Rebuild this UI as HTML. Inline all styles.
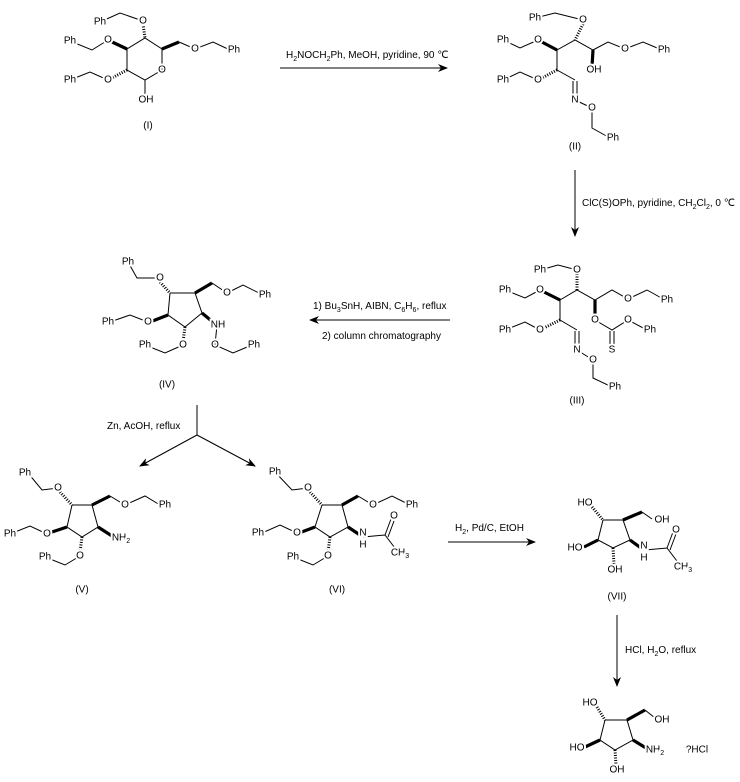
<!DOCTYPE html>
<html><head><meta charset="utf-8"><style>
html,body{margin:0;padding:0;background:#fff;}
svg{display:block;}
line,polyline{stroke:#000;stroke-width:1;fill:none;}
.w{stroke-width:3.2;}
.h{stroke-dasharray:1 1.5;stroke-width:3;}
text{font-family:"Liberation Sans",Arial,sans-serif;font-size:10px;fill:#000;}
.a{text-anchor:middle;dominant-baseline:central;stroke:#fff;stroke-width:4;paint-order:stroke;}
</style></head><body>
<svg width="740" height="782" viewBox="0 0 740 782" xmlns="http://www.w3.org/2000/svg">
<defs><marker id="ar" markerWidth="10" markerHeight="8" refX="9" refY="4" orient="auto" markerUnits="userSpaceOnUse"><path d="M0,0 L10,4 L0,8 L3,4z" fill="#000"/></marker></defs>

<!-- I -->
<polyline points="100,22 120,13 143,21"/>
<line class="h" x1="143" y1="24" x2="145" y2="38"/>
<polyline points="127,49 145,38 162,49 162,70 145,80 127,70 127,49"/>
<line class="w" x1="127" y1="49" x2="110" y2="41"/>
<polyline points="108,40 92,50 70,41"/>
<line class="w" x1="162" y1="49" x2="179" y2="42"/>
<polyline points="179,42 195,49 213,42 230,50"/>
<line x1="145" y1="80" x2="145" y2="100"/>
<line class="h" x1="127" y1="70" x2="110" y2="79"/>
<polyline points="108,80 90,72 70,80"/>
<text class="a" x="100" y="22">Ph</text><text class="a" x="143" y="21">O</text>
<text class="a" x="108" y="40">O</text><text class="a" x="70" y="41">Ph</text>
<text class="a" x="195" y="49">O</text><text class="a" x="234" y="50">Ph</text>
<text class="a" x="162" y="70">O</text><text class="a" x="146" y="100">OH</text>
<text class="a" x="108" y="80">O</text><text class="a" x="70" y="80">Ph</text>
<text class="a" x="148" y="126">(I)</text>

<line x1="280" y1="68" x2="447" y2="68" marker-end="url(#ar)"/>
<text x="286" y="58">H<tspan font-size="7" dy="3">2</tspan><tspan dy="-3">NOCH</tspan><tspan font-size="7" dy="3">2</tspan><tspan dy="-3">Ph, MeOH, pyridine, 90 ℃</tspan></text>

<!-- II -->
<polyline points="535,18 555,13 583,20"/>
<line class="h" x1="583" y1="24" x2="575" y2="40"/>
<polyline points="557,50 575,40 593,50 608,42 625,49 643,42 662,50"/>
<line class="w" x1="557" y1="50" x2="540" y2="41"/>
<polyline points="538,40 520,48 503,40"/>
<line class="w" x1="593" y1="50" x2="592" y2="67"/>
<polyline points="557,50 557,70 575,80"/>
<line x1="573" y1="81" x2="573" y2="97"/><line x1="577" y1="81" x2="577" y2="97"/>
<line class="h" x1="557" y1="70" x2="540" y2="79"/>
<polyline points="538,80 520,72 503,80"/>
<polyline points="575,100 592,108 592,128 610,138"/>
<text class="a" x="535" y="18">Ph</text><text class="a" x="583" y="20">O</text>
<text class="a" x="538" y="40">O</text><text class="a" x="503" y="40">Ph</text>
<text class="a" x="625" y="49">O</text><text class="a" x="664" y="50">Ph</text>
<text class="a" x="594" y="70">OH</text>
<text class="a" x="538" y="80">O</text><text class="a" x="503" y="80">Ph</text>
<text class="a" x="575" y="100">N</text><text class="a" x="592" y="108">O</text>
<text class="a" x="613" y="138">Ph</text>
<text class="a" x="575" y="147">(II)</text>

<line x1="575" y1="170" x2="575" y2="236" marker-end="url(#ar)"/>
<text x="582" y="206">ClC(S)OPh, pyridine, CH<tspan font-size="7" dy="3">2</tspan><tspan dy="-3">Cl</tspan><tspan font-size="7" dy="3">2</tspan><tspan dy="-3">, 0 ℃</tspan></text>

<!-- III -->
<polyline points="540,270 558,265 577,270"/>
<line class="h" x1="577" y1="274" x2="577" y2="290"/>
<polyline points="560,300 577,290 595,300 612,290 628,299 647,290 665,300"/>
<line class="w" x1="560" y1="300" x2="542" y2="291"/>
<polyline points="540,290 525,298 505,290"/>
<line class="w" x1="595" y1="300" x2="595" y2="317"/>
<polyline points="595,320 612,330 628,320 647,330"/>
<line x1="610" y1="331" x2="610" y2="346"/><line x1="614" y1="331" x2="614" y2="346"/>
<polyline points="560,300 560,320 577,330"/>
<line x1="575" y1="331" x2="575" y2="347"/><line x1="579" y1="331" x2="579" y2="347"/>
<line class="h" x1="560" y1="320" x2="542" y2="329"/>
<polyline points="540,330 525,322 505,330"/>
<polyline points="577,350 593,360 593,378 612,387"/>
<text class="a" x="540" y="270">Ph</text><text class="a" x="577" y="270">O</text>
<text class="a" x="540" y="290">O</text><text class="a" x="505" y="290">Ph</text>
<text class="a" x="628" y="299">O</text><text class="a" x="667" y="300">Ph</text>
<text class="a" x="595" y="320">O</text><text class="a" x="628" y="320">O</text>
<text class="a" x="650" y="330">Ph</text><text class="a" x="612" y="350">S</text>
<text class="a" x="540" y="330">O</text><text class="a" x="505" y="330">Ph</text>
<text class="a" x="577" y="350">N</text><text class="a" x="593" y="360">O</text>
<text class="a" x="615" y="387">Ph</text>
<text class="a" x="577" y="401">(III)</text>

<line x1="450" y1="320" x2="310" y2="320" marker-end="url(#ar)"/>
<text x="313" y="309">1) Bu<tspan font-size="7" dy="3">3</tspan><tspan dy="-3">SnH, AIBN, C</tspan><tspan font-size="7" dy="3">6</tspan><tspan dy="-3">H</tspan><tspan font-size="7" dy="3">6</tspan><tspan dy="-3">, reflux</tspan></text>
<text x="322" y="339">2) column chromatography</text>

<!-- IV -->
<polyline points="128,262 137,278 160,278"/>
<line class="h" x1="160" y1="282" x2="170" y2="293"/>
<polyline points="170,293 195,293 202,313 185,327 168,315 170,293"/>
<line class="w" x1="195" y1="293" x2="212" y2="283"/>
<polyline points="212,283 227,293 243,285 263,295"/>
<line class="w" x1="202" y1="313" x2="214" y2="323"/>
<polyline points="217,325 215,345 233,353 252,345"/>
<line class="h" x1="185" y1="327" x2="183" y2="342"/>
<polyline points="183,345 165,353 145,345"/>
<line class="w" x1="168" y1="315" x2="150" y2="322"/>
<polyline points="148,322 130,315 110,322"/>
<text class="a" x="128" y="262">Ph</text><text class="a" x="160" y="278">O</text>
<text class="a" x="227" y="293">O</text><text class="a" x="265" y="295">Ph</text>
<text class="a" x="218" y="325">NH</text><text class="a" x="215" y="345">O</text>
<text class="a" x="254" y="345">Ph</text>
<text class="a" x="183" y="345">O</text><text class="a" x="145" y="345">Ph</text>
<text class="a" x="148" y="322">O</text><text class="a" x="108" y="322">Ph</text>
<text class="a" x="167" y="385">(IV)</text>

<line x1="197" y1="405" x2="197" y2="435"/>
<line x1="197" y1="435" x2="140" y2="466" marker-end="url(#ar)"/>
<line x1="197" y1="435" x2="255" y2="466" marker-end="url(#ar)"/>
<text x="107" y="429">Zn, AcOH, reflux</text>

<!-- V -->
<polyline points="28,473 42,490 58,488"/>
<line class="h" x1="60" y1="492" x2="72" y2="505"/>
<polyline points="72,505 92,505 98,527 82,537 67,527 72,505"/>
<line class="w" x1="92" y1="505" x2="110" y2="496"/>
<polyline points="110,496 125,505 145,496 160,505"/>
<line class="w" x1="98" y1="527" x2="112" y2="536"/>
<line class="h" x1="82" y1="537" x2="80" y2="552"/>
<polyline points="80,556 65,565 45,557"/>
<line class="w" x1="67" y1="527" x2="49" y2="533"/>
<polyline points="47,534 30,526 10,534"/>
<text class="a" x="25" y="473">Ph</text><text class="a" x="58" y="488">O</text>
<text class="a" x="125" y="505">O</text><text class="a" x="165" y="505">Ph</text>
<text class="a" x="121" y="538">NH<tspan font-size="7" dy="3">2</tspan></text>
<text class="a" x="80" y="556">O</text><text class="a" x="45" y="557">Ph</text>
<text class="a" x="47" y="534">O</text><text class="a" x="10" y="534">Ph</text>
<text class="a" x="82" y="590">(V)</text>

<!-- VI -->
<polyline points="275,472 292,490 308,488"/>
<line class="h" x1="310" y1="492" x2="322" y2="505"/>
<polyline points="322,505 342,505 348,527 330,537 315,527 322,505"/>
<line class="w" x1="342" y1="505" x2="358" y2="496"/>
<polyline points="358,496 373,505 392,496 410,505"/>
<line class="w" x1="348" y1="527" x2="360" y2="535"/>
<polyline points="363,537 385,535 398,552"/>
<line x1="385" y1="535" x2="391" y2="519"/><line x1="388" y1="537" x2="394" y2="521"/>
<line class="h" x1="330" y1="537" x2="328" y2="552"/>
<polyline points="328,556 313,565 293,557"/>
<line class="w" x1="315" y1="527" x2="299" y2="533"/>
<polyline points="297,533 280,525 262,533"/>
<text class="a" x="275" y="472">Ph</text><text class="a" x="308" y="488">O</text>
<text class="a" x="373" y="505">O</text><text class="a" x="412" y="505">Ph</text>
<text class="a" x="363" y="533">N</text><text class="a" x="363" y="545">H</text>
<text class="a" x="394" y="516">O</text>
<text class="a" x="400" y="553">CH<tspan font-size="7" dy="3">3</tspan></text>
<text class="a" x="328" y="556">O</text><text class="a" x="293" y="557">Ph</text>
<text class="a" x="297" y="533">O</text><text class="a" x="258" y="533">Ph</text>
<text class="a" x="337" y="590">(VI)</text>

<line x1="448" y1="542" x2="535" y2="542" marker-end="url(#ar)"/>
<text x="455" y="531">H<tspan font-size="7" dy="3">2</tspan><tspan dy="-3">, Pd/C, EtOH</tspan></text>

<!-- VII -->
<line class="h" x1="592" y1="507" x2="603" y2="520"/>
<polyline points="603,520 623,520 630,540 613,548 598,540 603,520"/>
<line class="w" x1="623" y1="520" x2="642" y2="512"/>
<line x1="642" y1="512" x2="652" y2="519"/>
<line class="w" x1="630" y1="540" x2="641" y2="548"/>
<polyline points="645,550 667,548 680,565"/>
<line x1="667" y1="548" x2="673" y2="532"/><line x1="670" y1="550" x2="676" y2="534"/>
<line class="h" x1="613" y1="548" x2="614" y2="564"/>
<line class="w" x1="598" y1="540" x2="584" y2="547"/>
<text class="a" x="585" y="503">HO</text><text class="a" x="662" y="520">OH</text>
<text class="a" x="644" y="546">N</text><text class="a" x="644" y="558">H</text>
<text class="a" x="676" y="530">O</text>
<text class="a" x="683" y="567">CH<tspan font-size="7" dy="3">3</tspan></text>
<text class="a" x="615" y="570">OH</text><text class="a" x="575" y="548">HO</text>
<text class="a" x="617" y="597">(VII)</text>

<line x1="617" y1="615" x2="617" y2="686" marker-end="url(#ar)"/>
<text x="625" y="653">HCl, H<tspan font-size="7" dy="3">2</tspan><tspan dy="-3">O, reflux</tspan></text>

<!-- final -->
<line class="h" x1="597" y1="707" x2="605" y2="720"/>
<polyline points="605,720 627,720 633,740 615,750 600,740 605,720"/>
<line class="w" x1="627" y1="720" x2="645" y2="710"/>
<line x1="645" y1="710" x2="655" y2="718"/>
<line class="w" x1="633" y1="740" x2="646" y2="748"/>
<line class="h" x1="615" y1="750" x2="616" y2="765"/>
<line class="w" x1="600" y1="740" x2="585" y2="747"/>
<text class="a" x="590" y="703">HO</text><text class="a" x="662" y="720">OH</text>
<text class="a" x="655" y="750">NH<tspan font-size="7" dy="3">2</tspan></text>
<text class="a" x="697" y="750">?HCl</text>
<text class="a" x="617" y="770">OH</text><text class="a" x="577" y="748">HO</text>
</svg>
</body></html>
